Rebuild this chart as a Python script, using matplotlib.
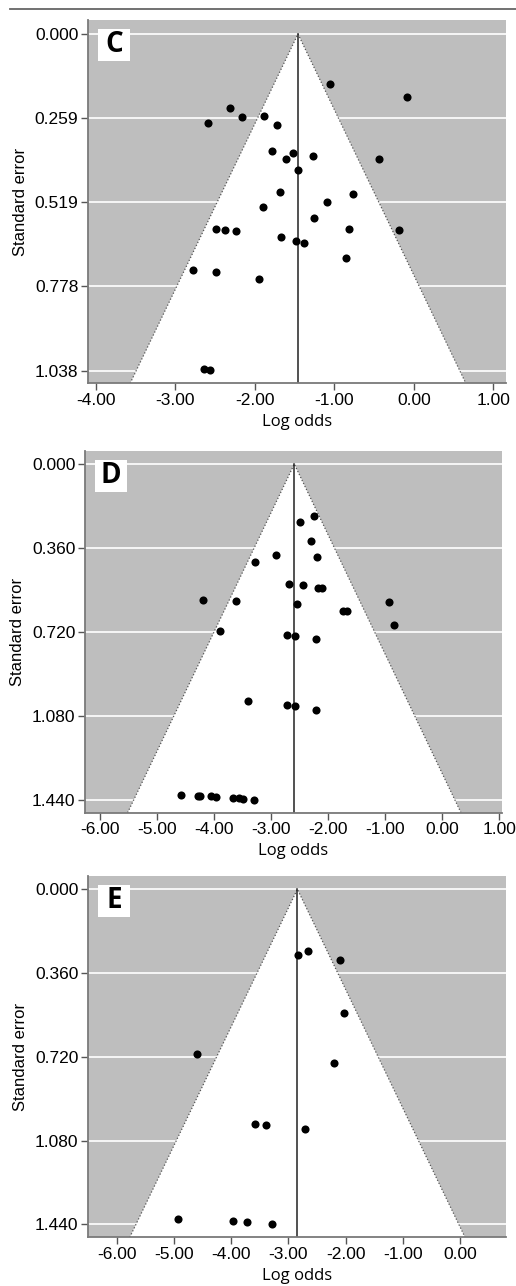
import matplotlib
matplotlib.use("Agg")
import matplotlib.pyplot as plt
from matplotlib.lines import Line2D
from matplotlib.patches import Polygon, Rectangle

W, H = 516, 1286  # figure size in pixels

# Panel C data (log odds, standard error)
c_logodds = [-1.058, -0.083, -2.305, -2.157, -1.880, -2.594, -1.725, -1.783,
             -1.519, -1.603, -1.263, -0.441, -1.456, -1.688, -0.768, -1.091,
             -1.902, -1.254, -2.489, -2.368, -2.233, -0.814, -0.184, -1.675,
             -1.477, -1.385, -0.851, -2.771, -2.489, -1.943, -2.632, -2.557]
c_se = [0.154, 0.193, 0.229, 0.255, 0.252, 0.276, 0.280, 0.360,
        0.368, 0.385, 0.377, 0.386, 0.419, 0.487, 0.493, 0.517,
        0.534, 0.567, 0.600, 0.603, 0.606, 0.600, 0.603, 0.627,
        0.638, 0.644, 0.690, 0.727, 0.734, 0.754, 1.034, 1.037]
c_pooled = -1.456
c_yticks = [0.000, 0.259, 0.519, 0.778, 1.038]
c_xticks = [-4.0, -3.0, -2.0, -1.0, 0.0, 1.0]

# Panel D data
d_logodds = [-2.251, -2.496, -2.298, -2.923, -2.193, -3.286, -2.695, -2.449,
             -2.175, -2.116, -4.204, -3.614, -2.549, -0.930, -1.737, -1.677,
             -0.842, -3.900, -2.719, -2.584, -2.211, -3.414, -2.719, -2.584,
             -2.211, -4.589, -4.286, -4.251, -4.063, -3.975, -3.677, -3.561,
             -3.502, -3.303]
d_se = [0.224, 0.250, 0.331, 0.388, 0.400, 0.418, 0.515, 0.519,
        0.530, 0.530, 0.582, 0.586, 0.598, 0.591, 0.628, 0.628,
        0.691, 0.715, 0.731, 0.735, 0.748, 1.015, 1.032, 1.036,
        1.052, 1.418, 1.423, 1.423, 1.423, 1.427, 1.431, 1.431,
        1.435, 1.440]
d_pooled = -2.596
d_yticks = [0.000, 0.360, 0.720, 1.080, 1.440]
d_xticks = [-6.0, -5.0, -4.0, -3.0, -2.0, -1.0, 0.0, 1.0]

# Panel E data
e_logodds = [-2.825, -2.656, -2.091, -2.021, -4.601, -2.201, -3.577, -3.395,
             -2.708, -4.923, -3.967, -3.717, -3.290]
e_se = [0.284, 0.267, 0.304, 0.530, 0.709, 0.747, 1.010, 1.015,
        1.031, 1.419, 1.427, 1.432, 1.440]
e_pooled = -2.843
e_yticks = [0.000, 0.360, 0.720, 1.080, 1.440]
e_xticks = [-6.0, -5.0, -4.0, -3.0, -2.0, -1.0, 0.0]

TICK_FONT = "Liberation Sans"
LABEL_FONT = "Open Sans"


def funnel_panel(box, letter, x, se, pooled, yticks, xticks, xlim, ylim):
    left, top, right, bottom = box
    axw, axh = right - left, bottom - top
    ax = fig.add_axes([left / W, 1 - bottom / H, axw / W, axh / H])
    ax.set_facecolor("#bebebe")

    # 95% pseudo confidence funnel
    ymax = ylim[0]
    ax.add_patch(Polygon([(pooled, 0), (pooled - 1.96 * ymax, ymax),
                          (pooled + 1.96 * ymax, ymax)],
                         closed=True, facecolor="white", edgecolor="none", zorder=1))
    ax.plot([pooled - 1.96 * ymax, pooled, pooled + 1.96 * ymax], [ymax, 0, ymax],
            ls=":", lw=0.9, color="#555555", zorder=2)
    ax.plot([pooled, pooled], [0, ymax], color="#222222", lw=1.1, zorder=2)

    ax.scatter(x, se, s=34, color="black", zorder=4, linewidths=0)

    ax.set_xlim(xlim)
    ax.set_ylim(ylim)
    ax.set_yticks(yticks)
    ax.set_yticklabels([f"{v:.3f}" for v in yticks], fontfamily=TICK_FONT)
    ax.set_xticks(xticks)
    ax.set_xticklabels([f"{v:.2f}" for v in xticks], fontfamily=TICK_FONT)
    ax.yaxis.grid(True, color="white", lw=1.2, zorder=1.5)
    ax.tick_params(direction="out", length=5, width=1, color="#555555",
                   labelsize=12.5, pad=2)

    for s in ["top", "right"]:
        ax.spines[s].set_visible(False)
    for s in ["left", "bottom"]:
        ax.spines[s].set_color("#7a7a7a")
        ax.spines[s].set_linewidth(1.3)

    ax.set_ylabel("Standard error", fontsize=12, fontfamily=TICK_FONT, labelpad=5)
    ax.set_xlabel("Log odds", fontsize=12, fontfamily=LABEL_FONT, labelpad=4)

    # panel letter in a white box
    ax.add_patch(Rectangle((10 / axw, 1 - 41 / axh), 32 / axw, 32 / axh,
                           transform=ax.transAxes, facecolor="white",
                           edgecolor="none", zorder=5))
    ax.text(26 / axw, 1 - 25 / axh, letter, transform=ax.transAxes,
            ha="center", va="center", fontsize=20, fontweight="bold",
            fontfamily=LABEL_FONT, zorder=6)
    return ax


fig = plt.figure(figsize=(W / 100, H / 100), dpi=100)

# thin rule at the top of the figure
fig.add_artist(Line2D([10 / W, 1.0], [1 - 9 / H, 1 - 9 / H],
                      transform=fig.transFigure, color="#666666", lw=1.3))

funnel_panel((88, 20, 506, 383.3), "C", c_logodds, c_se, c_pooled,
             c_yticks, c_xticks, (-4.097, 1.16), (1.077, -0.043))
funnel_panel((85, 450.7, 502, 812.7), "D", d_logodds, d_se, d_pooled,
             d_yticks, d_xticks, (-6.27, 1.05), (1.493, -0.057))
funnel_panel((88.3, 875.7, 505.7, 1237.3), "E", e_logodds, e_se, e_pooled,
             e_yticks, e_xticks, (-6.50, 0.80), (1.496, -0.058))

fig.savefig("out.png", dpi=100)
